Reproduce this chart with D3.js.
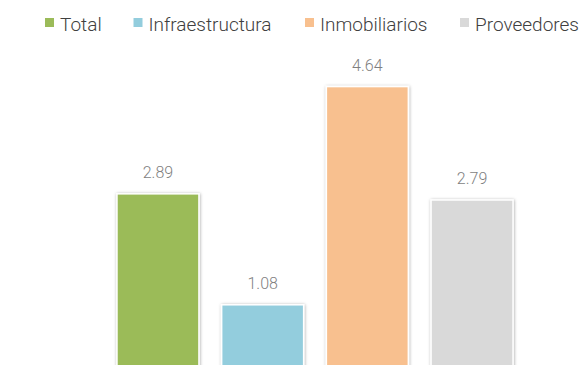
<!DOCTYPE html>
<html>
<head>
<meta charset="utf-8">
<script src="https://cdn.jsdelivr.net/npm/d3@7/dist/d3.min.js"></script>
<style>
  html, body { margin: 0; padding: 0; background: #fff; }
  svg { display: block; }
</style>
</head>
<body>
<svg id="chart" width="587" height="365"></svg>
<script>
// Series shown as one bar each
const categories = ["Total", "Infraestructura", "Inmobiliarios", "Proveedores"];
const values = [2.89, 1.08, 4.64, 2.79];
const colors = ["#9BBB59", "#93CDDD", "#F8C08F", "#D9D9D9"];

const svg = d3.select("#chart");
const fontFamily = "Roboto, 'Liberation Sans', Arial, sans-serif";

// Soft grey shadow around each bar
const defs = svg.append("defs");
const f = defs.append("filter").attr("id", "barShadow")
  .attr("x", "-20%").attr("y", "-20%").attr("width", "140%").attr("height", "140%");
f.append("feDropShadow").attr("dx", 0.5).attr("dy", 0.5)
  .attr("stdDeviation", 1.6).attr("flood-color", "#000").attr("flood-opacity", 0.35);

const x = d3.scaleBand()
  .domain(categories)
  .range([105.6, 524.4])
  .paddingInner(0.217)
  .paddingOuter(0.1085);

const y = d3.scaleLinear().domain([0, 5]).range([371, 64.5]);

const data = categories.map((c, i) => ({ cat: c, value: values[i], color: colors[i] }));

svg.append("g").selectAll("rect")
  .data(data)
  .join("rect")
  .attr("x", d => x(d.cat))
  .attr("y", d => y(d.value))
  .attr("width", x.bandwidth())
  .attr("height", d => y(0) - y(d.value))
  .attr("fill", d => d.color)
  .attr("stroke", "#fff")
  .attr("stroke-width", 1.5)
  .attr("filter", "url(#barShadow)");

svg.append("g").selectAll("text")
  .data(data)
  .join("text")
  .attr("x", d => x(d.cat) + x.bandwidth() / 2)
  .attr("y", d => y(d.value) - 15.5)
  .attr("text-anchor", "middle")
  .attr("font-family", fontFamily)
  .attr("font-weight", 300)
  .attr("font-size", 16)
  .attr("fill", "#7f7f7f")
  .text(d => d.value.toFixed(2));

// Legend across the top: swatch, then label, items laid out left to right
const legendX = [45, 133.5, 305, 460];
const legend = svg.append("g");
data.forEach((d, i) => {
  const g = legend.append("g").attr("transform", `translate(${legendX[i]},0)`);
  g.append("rect").attr("x", 0).attr("y", 18).attr("width", 9).attr("height", 9).attr("fill", d.color);
  g.append("text")
    .attr("x", 15).attr("y", 31)
    .attr("font-family", fontFamily)
    .attr("font-weight", 300)
    .attr("font-size", 19)
    .attr("fill", "#404040")
    .text(d.cat);
});
</script>
</body>
</html>
